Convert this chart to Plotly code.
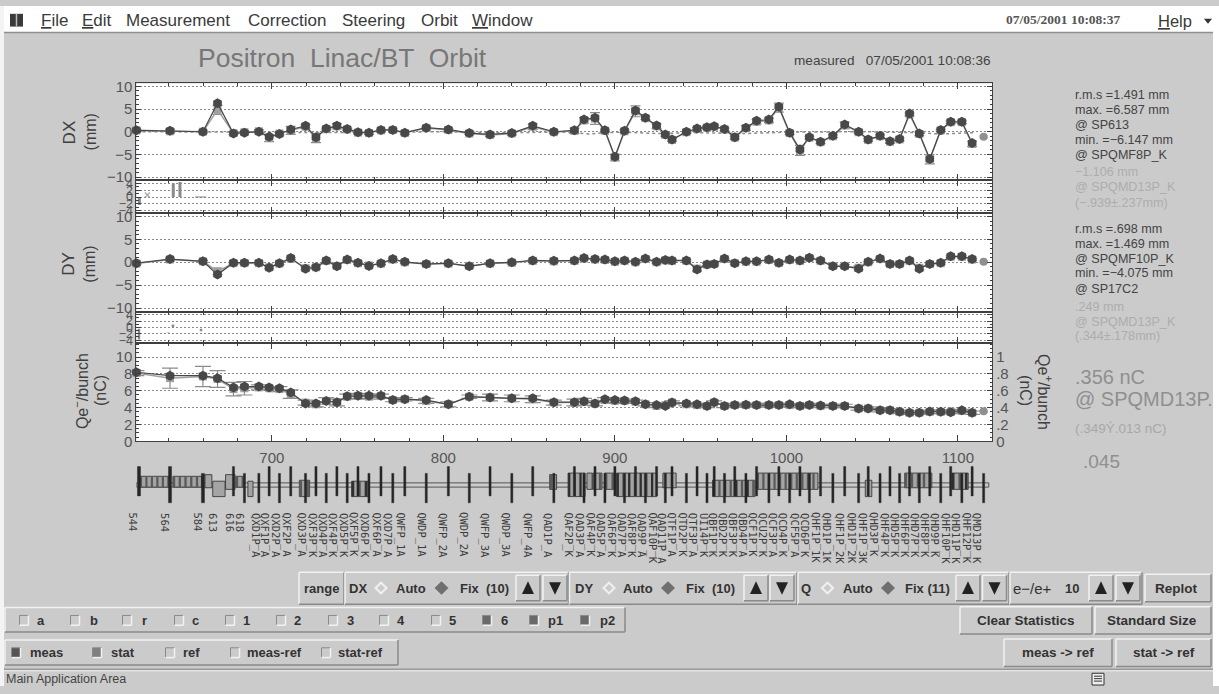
import plotly.graph_objects as go

# ---------- data ----------
bpm_names = ["544","564","584","613","616","618",
 "QXD1P_A","QXF1P_A","QXD2P_A","QXF2P_A","QXD3P_A","QXF3P_K","QXD4P_A","QXF4P_K","QXD5P_K","QXF5P_K","QXD6P_K","QXF6P_A","QXD7P_A",
 "QWFP_1A","QWDP_1A","QWFP_2A","QWDP_2A","QWFP_3A","QWDP_3A","QWFP_4A","QAD1P_A","QAF2P_K",
 "QAD3P_A","QAF4P_K","QAD5P_A","QAF6P_K","QAD7P_A","QAF8P_K","QAD9P_A","QAF10P_K","QAD11P_A",
 "QTF1P_A","QTD2P_K","QTF3P_A","UI14P_K","QBF1P_K","QBD2P_K","QBF3P_K","QBD4P_A",
 "QCF1P_K","QCU2P_K","QCF3P_A","QCD4P_K","QCF5P_A","QCD6P_K",
 "QHF1P_1K","QHD1P_1K","QHF1P_2K","QHD1P_2K","QHF1P_3K","QHD3P_K","QHF4P_K","QHD5P_K","QHF6P_K","QHD7P_K","QHF8P_K","QHD9P_K","QHF10P_K","QHD11P_K","QHF12P_K","QMD13P_K"]

pos = [621,640.6,659.8,668.3,677.6,684,692.4,698.4,704.4,711,719.6,725.7,731.7,737.9,743.9,750.2,756.6,763.6,770.5,777.5,
 790,802.9,815.1,827.2,839.9,852.1,864.4,876.4,882,888.4,894.2,900,905.6,912,917.8,924.3,929.4,933.3,941.7,947.9,953.7,957.9,
 963.9,969.9,976.4,982.6,989.8,995.6,1001.9,1007.9,1013.4,1019.9,1027.1,1034,1042.1,1047.7,1054.6,1060.4,1066,1071.8,1077.5,
 1083.6,1090,1095.8,1102.3,1108.3,1115]

dx_meas = [0.3,0.2,0,6.3,-0.4,-0.2,0,-1.1,-0.5,0.5,1.3,-1.2,0.7,1.3,0.6,-0.1,-0.2,0.4,0.4,-0.2,
 0.9,0.5,-0.3,-0.6,-0.3,1.3,0,0.3,2.7,3.1,0.3,-5.5,0.2,4.7,3.1,1.4,-0.6,-1.7,0,0.7,1,1.2,
 0.6,-1.2,0.9,2.4,2.7,5.5,-0.2,-3.9,-1.2,-2.2,-0.9,1.6,0,-1.7,-0.9,-2.1,-1.6,4,-0.4,
 -6,0.4,2.2,2.2,-2.5]
dx_stat = [0.3,0.1,0,4.8,-0.3,-0.1,0.1,-1.4,-0.4,0.3,1.1,-1.4,0.6,1.2,0.5,-0.2,-0.3,0.3,0.4,-0.3,
 0.8,0.4,-0.4,-0.7,-0.4,1.1,-0.1,0.2,2.5,2.9,0.2,-5.7,0.1,4.5,3.0,1.2,-0.7,-1.8,-0.1,0.6,0.9,1.1,
 0.5,-1.3,0.8,2.2,2.5,5.3,-0.3,-4.1,-1.3,-2.3,-1,1.4,-0.1,-1.8,-1,-2.2,-1.7,3.8,-0.5,
 -6.1,0.3,2.1,2.1,-2.7]
dx_err = [0.3,0.4,0.2,1,0.3,0.2,0.3,0.8,0.3,0.9,0.4,1,0.2,0.6,0.2,0.2,0.3,0.2,0.2,0.3,
 0.2,0.3,0.2,0.4,0.3,0.6,0.2,0.6,0.6,1.3,0.2,0.7,0.3,1.2,0.3,0.5,0.3,0.3,0.2,0.3,0.3,0.3,
 0.3,0.3,0.5,0.5,0.5,1,0.3,1.1,0.3,0.3,0.3,0.7,0.2,0.3,0.3,0.3,0.3,0.3,0.4,
 1,0.2,0.3,0.3,0.6]
dx_last_pos = [1115]
dx_last = [-1.1]

ref_pos = [621,660,680,700,725,760,800,830,870,885,894,905,925,945,975,1000,1025,1045,1075,1090,1110]
ref_val = [0,0,-0.1,-0.1,-0.2,-0.1,0,-0.2,-0.1,-0.5,-0.2,-0.1,-0.4,-0.2,-0.4,-0.1,-0.1,0,-0.2,-0.5,-0.2]

dy_meas = [-0.2,0.7,0.2,-2.7,-0.1,-0.1,-0.1,-1.2,-0.2,0.9,-1.4,-1.1,0.4,-0.9,0.6,-0.1,-0.8,-0.2,0.7,0.1,
 -0.4,-0.2,-0.9,-0.2,0,0.4,0.3,0.4,0.9,0.7,0.6,0.2,0.4,0.1,0.8,0.1,0.5,0.4,0.4,-1.6,-0.5,-0.4,
 0.8,-0.2,0.2,0.2,0.6,-0.1,0.6,0.4,1,0.4,-0.9,-0.9,-1.4,0.1,0.8,-0.4,-0.4,0.4,-1.4,
 -0.4,-0.1,1.3,1.3,0.7]
dy_stat = [-0.3,0.6,0.2,-2.0,-0.2,-0.2,-0.2,-1.1,-0.3,0.8,-1.3,-1.1,0.3,-0.8,0.5,-0.2,-0.7,-0.3,0.6,0,
 -0.4,-0.3,-0.8,-0.3,-0.1,0.3,0.2,0.3,0.8,0.6,0.5,0.1,0.3,0,0.7,0,0.4,0.3,0.3,-1.4,-0.5,-0.4,
 0.7,-0.2,0.1,0.1,0.5,-0.2,0.5,0.3,0.9,0.3,-0.8,-0.8,-1.2,0,0.7,-0.4,-0.4,0.3,-1.2,
 -0.4,-0.2,1.2,1.2,0.6]
dy_err = [0.2,0.3,0.2,0.7,0.2,0.2,0.2,0.3,0.2,0.2,0.3,0.3,0.2,0.2,0.2,0.2,0.2,0.2,0.2,0.2,
 0.2,0.2,0.2,0.2,0.2,0.2,0.2,0.2,0.2,0.2,0.2,0.2,0.2,0.2,0.2,0.2,0.2,0.2,0.2,0.5,0.3,0.2,
 0.2,0.2,0.2,0.2,0.2,0.2,0.2,0.2,0.2,0.2,0.4,0.3,0.4,0.2,0.2,0.2,0.2,0.2,0.4,
 0.2,0.2,0.2,0.2,0.2]
dy_last_pos = [1115]
dy_last = [0.1]

q_meas = [8.2,7.8,7.8,7.5,6.4,6.5,6.5,6.4,6.3,5.8,4.5,4.5,4.8,4.65,5.35,5.4,5.4,5.4,4.9,5,
 4.9,4.4,5.3,5.2,5.1,5.1,4.65,4.65,4.75,4.5,5,4.9,4.85,4.75,4.4,4.3,4.2,4.6,4.5,4.4,4.2,4.65,
 4.2,4.3,4.35,4.3,4.3,4.3,4.4,4.2,4.3,4.25,4.2,4.2,3.9,3.9,3.7,3.7,3.5,3.4,3.4,
 3.55,3.5,3.45,3.7,3.4]
q_stat = [8.1,7.5,7.7,7.4,6.2,6.3,6.4,6.3,6.2,5.6,4.6,4.4,4.8,4.6,5.3,5.4,5.3,5.4,4.9,5,
 4.8,4.4,5.3,5.2,5.1,5,4.6,4.6,4.7,4.5,4.9,4.8,4.8,4.7,4.4,4.2,4.3,4.6,4.4,4.3,4.2,4.6,
 4.2,4.3,4.3,4.3,4.3,4.3,4.3,4.2,4.3,4.2,4.2,4.2,3.9,3.9,3.7,3.7,3.5,3.4,3.4,
 3.5,3.5,3.5,3.6,3.4]
q_err = [0.3,1.2,1.2,1,0.8,0.8,0.3,0.2,0.3,0.5,0.3,0.3,0.4,0.4,0.3,0.3,0.3,0.2,0.2,0.2,
 0.3,0.3,0.2,0.4,0.4,0.4,0.3,0.4,0.4,0.3,0.3,0.3,0.2,0.2,0.2,0.2,0.2,0.2,0.2,0.2,0.2,0.2,
 0.2,0.2,0.2,0.2,0.2,0.2,0.2,0.2,0.2,0.2,0.2,0.2,0.2,0.2,0.2,0.2,0.2,0.2,0.2,
 0.2,0.2,0.2,0.2,0.2]
qp_pos = [1115]
qp_val = [0.356]
qp_err = [0.013]

sub1_pos = [622.7,642.5,646.4]
sub1_val = [-1.15,2.0,2.2]
sub1_err = [1.15,2.0,2.2]
sub1_pt_pos = [627.4,658.5]
sub1_pt_val = [0.6,0]
sub2_pos = [622.5,639.5,642.3,658.7]
sub2_val = [-2.1,-1.6,0.5,-0.8]
sub2_err = [1.7,0.1,0.4,0.4]

# ---------- geometry ----------
W, H = 1219, 694
X_L, X_R = 136.4, 992.2
X_RANGE = [621, 1120]
def fx(p): return p / W
def fy(p): return 1 - p / H
INK = "#555555"; DARK = "#3f3f3f"; BG = "#cbcbcb"
FONT = "Liberation Sans"

# pixel columns of the rotated element names (they are spread apart where elements crowd)
label_px = [132.7,165,197.7,213,230,240,256,265.3,276,286.7,301.7,313,323,333,344,354,365,376.7,388,400.7,421.7,443,464,485,505.7,528,548,568.5,
            580,590.7,601,612,622,632,642,652.7,662,671.7,682.7,693.3,704,713.3,723.3,733.3,743.3,752.7,763.3,773.3,783.3,795,805,816,826.7,840,
            851.7,863.3,874,885,895,905,915,925,935,946,956,966.7,977.3]

shapes, ann = [], []
def rect(x0, y0, x1, y1, fill=None, line=None, w=1, layer="below"):
    shapes.append(dict(type="rect", xref="paper", yref="paper", x0=fx(x0), x1=fx(x1), y0=fy(y1), y1=fy(y0),
                       fillcolor=fill or "rgba(0,0,0,0)", line=dict(color=line or "rgba(0,0,0,0)", width=w), layer=layer))
def seg(x0, y0, x1, y1, c, w=1):
    shapes.append(dict(type="line", xref="paper", yref="paper", x0=fx(x0), x1=fx(x1), y0=fy(y0), y1=fy(y1),
                       line=dict(color=c, width=w), layer="below"))
def poly(points, fill):
    path = "M " + " L ".join(f"{fx(a):.5f},{fy(b):.5f}" for a, b in points) + " Z"
    shapes.append(dict(type="path", xref="paper", yref="paper", path=path, fillcolor=fill, line=dict(width=0), layer="below"))
def bevel(x0, y0, x1, y1, raised=True):
    a, b = ("#f2f2f2", "#8a8a8a") if raised else ("#8a8a8a", "#f2f2f2")
    seg(x0, y0, x1, y0, a, 1.5); seg(x0, y0, x0, y1, a, 1.5)
    seg(x0, y1, x1, y1, b, 1.5); seg(x1, y0, x1, y1, b, 1.5)
def text(x, y, s, size=13, color="#333333", anchor="left", family=FONT, angle=0):
    ann.append(dict(xref="paper", yref="paper", x=fx(x - (2 if anchor == "left" else 0)), y=fy(y), text=s, showarrow=False, xanchor=anchor, yanchor="middle",
                    font=dict(size=size, color=color, family=family), textangle=angle, align="left"))
def u(s):
    return f'<span style="text-decoration:underline">{s[0]}</span>{s[1:]}'

# window frame and top menu bar
rect(0, 0, W, 26.5, "#ffffff")
rect(0, 0, 4, H, "#f4f4f4")
rect(1213, 0, W, H, "#ffffff")
seg(4, 27, 1213, 27, "#8f8f8f", 1.5)
rect(10, 8, 23, 21, "#3a3a3a")
seg(16.5, 8, 16.5, 21, "#bbbbbb", 1.5)
for x, s in [(41, u("File")), (82, u("Edit")), (126, "Measurement"), (248, "Correction"), (342, "Steering"), (421, "Orbit"), (472, u("Window"))]:
    text(x, 15, s, 17, "#3a3a3a")
text(1006, 14, "<b>07/05/2001 10:08:37</b>", 13.5, "#555555", family="Liberation Serif")
text(1158, 15, u("Help"), 16.5, "#3a3a3a")
poly([(1204, 13), (1212, 13), (1208, 18)], "#333333")

# titles
text(198, 53, "Positron  Linac/BT  Orbit", 26.5, "#777777")
text(794, 56, "measured   07/05/2001 10:08:36", 13.6, "#444444")

# statistics column
for y, s, c, z in [(91,"r.m.s =1.491 mm","#444444",12.6),(106,"max. =6.587 mm","#444444",12.6),(121,"@ SP613","#444444",12.6),
                   (137,"min. =−6.147 mm","#444444",12.6),(152,"@ SPQMF8P_K","#444444",12.6),(169,"−1.106 mm","#adadad",12.6),
                   (185,"@ SPQMD13P_K","#adadad",12.6),(201,"(−.939±.237mm)","#adadad",12.6),
                   (228,"r.m.s =.698 mm","#444444",12.6),(243,"max. =1.469 mm","#444444",12.6),(258,"@ SPQMF10P_K","#444444",12.6),
                   (273,"min. =−4.075 mm","#444444",12.6),(289,"@ SP17C2","#444444",12.6),(307,".249 mm","#adadad",12.6),
                   (322,"@ SPQMD13P_K","#adadad",12.6),(337,"(.344±.178mm)","#adadad",12.6),
                   (379,".356 nC","#8f8f8f",20),(401,"@ SPQMD13P.","#8f8f8f",20),(431,"(.349Ý.013 nC)","#a8a8a8",13.5)]:
    text(1075, y, s, z, c)
text(1083, 465, ".045", 19, "#8f8f8f")

# axis titles
text(69, 129, "DX", 17, "#3f3f3f", "center", angle=-90)
text(90, 129, "(mm)", 16, "#3f3f3f", "center", angle=-90)
text(69, 263, "DY", 17, "#3f3f3f", "center", angle=-90)
text(90, 264, "(mm)", 16, "#3f3f3f", "center", angle=-90)
text(81, 393, "Qe<sup>−</sup>/bunch", 16, "#3f3f3f", "center", angle=-90)
text(100, 393, "(nC)", 16, "#3f3f3f", "center", angle=-90)
text(1045, 394, "Qe<sup>+</sup>/bunch", 16, "#3f3f3f", "center", angle=90)
text(1026, 392, "(nC)", 16, "#3f3f3f", "center", angle=90)

# control rows
for x0, x1 in [(299, 344), (345, 568.5), (569.5, 797), (798, 1009), (1010, 1142)]:
    bevel(x0, 578, x1, 610.5)
bevel(1145, 580, 1211, 608)
bevel(5, 614, 625, 639)
bevel(5, 647, 398, 672.5)
bevel(960, 613, 1092, 641); bevel(1095, 613, 1211, 641)
bevel(1004, 646, 1112, 674); bevel(1116, 646, 1211, 674)
seg(4, 677, 1213, 677, "#9a9a9a", 1.5)
seg(4, 678.5, 1213, 678.5, "#eeeeee", 1)

def diamond(x, y, on):
    poly([(x-7, y), (x, y-7), (x+7, y), (x, y+7)], "#f0f0f0" if not on else "#6f6f6f")
    if not on:
        poly([(x-4, y), (x, y-4), (x+4, y), (x, y+4)], BG)
def arrows(xu, xd):
    for x, up in ((xu, True), (xd, False)):
        bevel(x-12, 581, x+12, 607)
        if up:
            poly([(x-6, 600), (x+6, 600), (x, 587)], "#222222")
        else:
            poly([(x-6, 588), (x+6, 588), (x, 601)], "#222222")

B = "<b>%s</b>"
YR = 594
text(321.5, YR, B % "range", 13, "#333333", "center")
text(358, YR, B % "DX", 13, "#333333", "center")
diamond(381, YR, False); text(411, YR, B % "Auto", 13, "#333333", "center")
diamond(441.5, YR, True); text(484, YR, B % "Fix  (10)", 13, "#333333", "center")
arrows(528, 555)
text(584, YR, B % "DY", 13, "#333333", "center")
diamond(609, YR, False); text(638, YR, B % "Auto", 13, "#333333", "center")
diamond(668, YR, True); text(710.5, YR, B % "Fix  (10)", 13, "#333333", "center")
arrows(756, 782)
text(806, YR, B % "Q", 13, "#333333", "center")
diamond(827.5, YR, False); text(858, YR, B % "Auto", 13, "#333333", "center")
diamond(888, YR, True); text(928, YR, B % "Fix (11)", 13, "#333333", "center")
arrows(968, 994.5)
text(1032, YR+1, "e−/e+", 15, "#333333", "center")
text(1072, YR, B % "10", 13, "#333333", "center")
arrows(1101, 1128)
text(1176, YR, B % "Replot", 13.5, "#333333", "center")
text(1026, 627, B % "Clear Statistics", 13.5, "#333333", "center")
text(1152, 627, B % "Standard Size", 13.5, "#333333", "center")
text(1058, 660, B % "meas -> ref", 13.5, "#333333", "center")
text(1164, 660, B % "stat -> ref", 13.5, "#333333", "center")

def check(x, y, on, colour="#6a6a6a"):
    rect(x-4.5, y-5, x+4.5, y+5, colour if on else BG)
    seg(x-4.5, y-5, x+4.5, y-5, "#8a8a8a", 1); seg(x-4.5, y-5, x-4.5, y+5, "#8a8a8a", 1)
    seg(x-4.5, y+5, x+4.5, y+5, "#f2f2f2", 1.5); seg(x+4.5, y-5, x+4.5, y+5, "#f2f2f2", 1.5)
for cx, tx, s, on in [(24,37,"a",0),(75,90,"b",0),(127,142,"r",0),(179,192,"c",0),(230,243,"1",0),(281,294,"2",0),(333,347,"3",0),
                      (384,397,"4",0),(436,449,"5",0),(487,501,"6",1),(534,548,"p1",1),(585,600,"p2",1)]:
    check(cx, 627, on); text(tx, 627, B % s, 13, "#333333")
for cx, tx, s, on, c in [(16,29.5,"meas",1,"#555555"),(97,110.5,"stat",1,"#808080"),(170,183,"ref",0,""),(235,247,"meas-ref",0,""),(326,338,"stat-ref",0,"")]:
    check(cx, 660, on, c); text(tx, 660, B % s, 13, "#333333")
text(6, 687, "Main Application Area", 12.5, "#444444")
rect(1092, 681, 1104, 693, "#eeeeee", "#333333")
for yy in (684, 686.5, 689):
    seg(1094, yy, 1102, yy, "#333333", 1)

# beam-line strip
def sx(x0, x1, y0, y1, fill, line="#3a3a3a", w=0.8):
    shapes.append(dict(type="rect", xref="x5", yref="paper", x0=x0, x1=x1, y0=fy(y1), y1=fy(y0),
                       fillcolor=fill, line=dict(color=line, width=w), layer="above"))
sx(621, 1118, 486.7, 491, "rgba(0,0,0,0)", "#555555", 1)

# (start, end, top, bottom, stripe darkness)
strip = [(623,640.6,480,491,1),(642.3,659,480,491,1),(661,665,478.3,491.7,0),(665.5,672.7,485,500.7,0),(673,678.5,478.3,493.3,0),
         (679,684,480,491,1),(686,689,485,500.7,0),(716,722,484,500.7,1),(746.5,756,485,500.7,2),(862,866,478.3,493.3,1),
         (872.7,882.6,476.7,500.7,2),(883.7,886.7,476.7,493.3,0),(887,892.5,476.7,493.3,1),(894,900,476.7,493.3,1),(901,924.4,476.7,500.7,2),
         (928,935.7,476.7,491.7,0),(957,981.7,484,500.7,2),(982.7,1018.4,476.7,493.3,1),(1046,1049.8,484,500.7,0),
         (1069,1084.8,476.7,491.7,1),(1096.5,1106,476.7,493.3,2)]
for a, b, t, bt, st in strip:
    sx(a, b, t, bt, "#a4a4a4", "#3a3a3a", 0.9)
    if st:
        n = max(2, int((b - a) / 1.6))
        step = (b - a) / n
        for i in range(0, n, 2):
            c = "#2f2f2f" if (st == 2 and i % 4 == 0) else "#5a5a5a"
            sx(a + i * step, a + (i + 0.8) * step, t, bt, c, "rgba(0,0,0,0)", 0)

def magnet_dir(name):
    return "up" if ("F" in name[:4] or name in ("544", "616")) else "down"
for name, x, px in zip(bpm_names, pos, label_px):
    ann.append(dict(xref="paper", yref="paper", x=fx(px), y=fy(515), yanchor="top", xanchor="center", text=name, showarrow=False,
                    textangle=90, font=dict(size=10.5, color="#3c3c3c", family="DejaVu Sans Mono")))
    if name == "613":
        continue
    if name == "564":
        t, b = 470, 507
    elif magnet_dir(name) == "up":
        t, b = 470, 500
    else:
        t, b = 477, 507
    wd = 1.8 if name in ("544", "564", "584") else 1.25
    off = 1.5 if name == "544" else 0
    sx(x - wd/2 + off, x + wd/2 + off, t, b, "#262626", "#262626", 0.4)

# ---------- traces ----------
fig = go.Figure()
def series(xa, ya, x, y, err, colour, size, symbol, lw, ecol, width=4, name="", thick=1.2):
    fig.add_trace(go.Scatter(x=x, y=y, xaxis=xa, yaxis=ya, mode="lines+markers", name=name, cliponaxis=False, showlegend=False,
                             line=dict(color=colour, width=lw),
                             marker=dict(color=colour, size=size, symbol=symbol),
                             error_y=dict(type="data", array=err, color=ecol, thickness=thick, width=width, visible=True)))
STAT = "#a0a0a0"; MEAS = "#484848"
# DX
fig.add_trace(go.Scatter(x=ref_pos, y=ref_val, xaxis="x", yaxis="y", mode="lines", showlegend=False,
                         line=dict(color="#8c8c8c", width=1.5, dash="dot")))
series("x", "y", pos[:66], dx_stat, dx_err, STAT, 8, "square", 1.5, "#8c8c8c", 5, name="stat")
series("x", "y", pos[:66], dx_meas, [0]*66, MEAS, 10, "hexagon", 1.2, MEAS, 0, name="meas")
series("x", "y", dx_last_pos, dx_last, [0.2], "#8f8f8f", 8, "circle", 1, "#8f8f8f", name="last")
# DX spread
series("x2", "y2", sub1_pos, sub1_val, sub1_err, "rgba(0,0,0,0)", 1, "square", 0, "#8a8a8a", 0, name="dx spread", thick=3)
fig.add_trace(go.Scatter(x=sub1_pt_pos, y=sub1_pt_val, xaxis="x2", yaxis="y2", mode="markers", showlegend=False,
                         marker=dict(symbol=["x-thin-open", "line-ew-open"], size=[5, 8], color="#8a8a8a", line=dict(color="#8a8a8a", width=1.5))))
# DY
series("x3", "y3", pos[:66], dy_stat, dy_err, STAT, 8, "square", 1.5, "#8c8c8c", 5, name="stat")
series("x3", "y3", pos[:66], dy_meas, [0]*66, MEAS, 10, "hexagon", 1.2, MEAS, 0, name="meas")
series("x3", "y3", dy_last_pos, dy_last, [0.18], "#8f8f8f", 8, "circle", 1, "#8f8f8f", name="last")
# DY spread
series("x4", "y4", sub2_pos, sub2_val, sub2_err, "rgba(0,0,0,0)", 1, "square", 0, "#8a8a8a", 0, name="dy spread", thick=2.5)
# Q
series("x5", "y5", pos[:66], q_stat, q_err, STAT, 8, "square", 1.5, "#8c8c8c", 8, name="stat")
series("x5", "y5", pos[:66], q_meas, [0]*66, MEAS, 10, "hexagon", 1.2, MEAS, 0, name="meas")
series("x5", "y6", qp_pos, qp_val, qp_err, "#8f8f8f", 8, "circle", 1, "#8f8f8f", name="e+")

# ---------- axes ----------
panels = {"": (79, 178), "2": (178, 211.5), "3": (211.5, 312), "4": (312, 343.7), "5": (343.7, 444.3)}
yspec = {
    "": dict(range=[-10.73, 10.65], dtick=5, minor=1),
    "2": dict(range=[-4.71, 4.86], dtick=2, minor=1),
    "3": dict(range=[-10.8, 10.7], dtick=5, minor=1),
    "4": dict(range=[-4.83, 4.92], dtick=2, minor=1),
    "5": dict(range=[0, 11.7], dtick=2, minor=0.5),
}
layout = {}
for k, (top, bot) in panels.items():
    layout["xaxis" + k] = dict(domain=[fx(X_L), fx(X_R)], range=X_RANGE, anchor="y" + k, tickmode="linear", tick0=700, dtick=100,
                               showticklabels=(k == "5"), ticks="inside", ticklen=6, tickwidth=1.2, ticklabelstandoff=3,
                               tickcolor=DARK, linecolor=DARK, linewidth=1, mirror="ticks", showgrid=False, zeroline=False,
                               tickfont=dict(size=15, family=FONT, color=INK),
                               minor=dict(tickmode="linear", tick0=700, dtick=20, ticks="inside", ticklen=3, tickcolor=DARK, tickwidth=1, showgrid=False))
    s = yspec[k]
    layout["yaxis" + k] = dict(domain=[fy(bot), fy(top)], range=s["range"], anchor="x" + k, tickmode="linear", tick0=0, dtick=s["dtick"],
                               ticks="inside", ticklen=5, tickcolor=DARK, tickwidth=1, linecolor=DARK, linewidth=1,
                               mirror=("ticks" if k != "5" else False), showgrid=True, gridcolor="#8a8a8a", griddash="2px,2px", gridwidth=1,
                               zeroline=False, tickfont=dict(size=15 if k in ("", "3", "5") else 12.5, family=FONT, color=INK),
                               minor=dict(tickmode="linear", tick0=0, dtick=s["minor"], ticks="inside", ticklen=2.5, tickcolor=DARK, tickwidth=1, showgrid=False))
layout["yaxis6"] = dict(domain=layout["yaxis5"]["domain"], overlaying="y5", side="right", anchor="x5", range=[0, 1.17],
                        tickvals=[0,0.2,0.4,0.6,0.8,1], ticktext=["0",".2",".4",".6",".8","1"], ticks="inside", ticklen=5,
                        tickcolor=DARK, linecolor=DARK, linewidth=1, showgrid=False, zeroline=False,
                        tickfont=dict(size=15, family=FONT, color=INK),
                        minor=dict(tickmode="array", tickvals=[0.05,0.1,0.15,0.25,0.3,0.35,0.45,0.5,0.55,0.65,0.7,0.75,0.85,0.9,0.95,1.05,1.1,1.15],
                                   ticks="inside", ticklen=2.5, tickcolor=DARK))

fig.update_layout(width=W, height=H, autosize=False, margin=dict(l=0, r=0, t=0, b=0), paper_bgcolor=BG, plot_bgcolor="#ffffff",
                  showlegend=False, shapes=shapes, annotations=ann, font=dict(family=FONT), **layout)
fig.write_html("out.html", config={"displayModeBar": False},
               post_script="document.body.style.margin='0';document.body.style.overflow='hidden';")
